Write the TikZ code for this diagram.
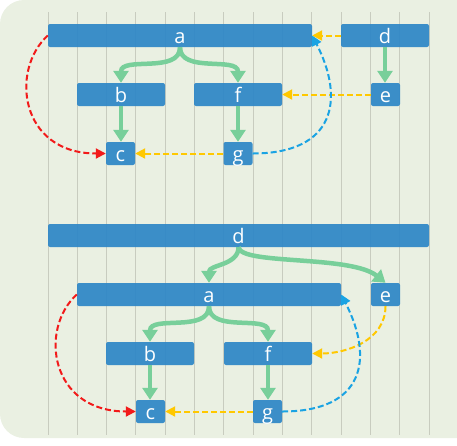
\documentclass[tikz,border=0pt]{standalone}
\usepackage{fontspec}
\setmainfont{Open Sans}
\usetikzlibrary{arrows.meta}

\definecolor{bgfill}{RGB}{234,240,226}
\definecolor{gridgray}{RGB}{200,204,191}
\definecolor{boxblue}{RGB}{46,135,199}
\definecolor{flowgreen}{RGB}{120,207,154}
\definecolor{linkred}{RGB}{242,26,26}
\definecolor{linkyellow}{RGB}{255,200,0}
\definecolor{linkblue}{RGB}{26,163,227}

\begin{document}
\begin{tikzpicture}[x=1pt,y=-1pt,
  box/.style={rectangle,rounded corners=2pt,fill=boxblue,fill opacity=0.93,text opacity=1,
    text=white,minimum height=23pt,inner sep=0pt,text height=19pt,text depth=4pt,
    font=\fontsize{20}{20}\selectfont},
  flow/.style={color=flowgreen,line width=4.5pt,-{Triangle[width=15pt,length=12pt]}},
  link/.style={line width=2pt,dash pattern=on 6pt off 3pt,-{Triangle[width=10pt,length=10pt]}},
  gridline/.style={draw=gridgray,line width=1pt}]

\useasboundingbox (0,0) rectangle (457,445);
\fill[bgfill,rounded corners=24pt] (457,0) -- (0,0) -- (0,438) -- (457,438);
\foreach \i in {0,...,13}
  \draw[gridline] (48+29.31*\i,12) -- ++(0,423);

% upper tree
\node[box,minimum width=264pt] (a1) at (180,35.5)  {a};
\node[box,minimum width=88pt]  (d1) at (385,35.5)  {d};
\node[box,minimum width=88pt]  (b1) at (121,94.5)  {b};
\node[box,minimum width=88pt]  (f1) at (238,94.5)  {f};
\node[box,minimum width=29pt]  (e1) at (385.5,94.5) {e};
\node[box,minimum width=29pt]  (c1) at (120.5,153.5) {c};
\node[box,minimum width=29pt]  (g1) at (238,153.5) {g};

\path[flow] (a1.south) edge[out=-90,in=90] (b1.north)
                       edge[out=-90,in=90] (f1.north)
            (b1.south) edge (b1.south |- c1.north)
            (f1.south) edge (f1.south |- g1.north)
            (d1.south) edge (d1.south |- e1.north);

\draw[link,linkyellow] (d1.west) -- (a1.east);
\draw[link,linkyellow] (e1.west) -- (e1.west -| f1.east);
\draw[link,linkyellow] (g1.west) -- (c1.east);
\draw[link,linkred] (a1.west) .. controls +(-38,34.5) and +(-86,0) .. (c1.west);
\draw[link,linkblue] (g1.east) .. controls +(82,0) and +(33,64.5) .. (a1.east);

% lower tree
\node[box,minimum width=381pt] (d2) at (238.5,235.5) {d};
\node[box,minimum width=264pt] (a2) at (209,294.5)   {a};
\node[box,minimum width=29pt]  (e2) at (385.5,294.5) {e};
\node[box,minimum width=88pt]  (b2) at (150,353.5)   {b};
\node[box,minimum width=88pt]  (f2) at (268,353.5)   {f};
\node[box,minimum width=29pt]  (c2) at (150.5,411.5) {c};
\node[box,minimum width=29pt]  (g2) at (267.5,411.5) {g};

\path[flow] (d2.south) edge[out=-90,in=90] (a2.north)
            (a2.south) edge[out=-90,in=90] (b2.north)
                       edge[out=-90,in=90] (f2.north)
            (b2.south) edge (b2.south |- c2.north)
            (f2.south) edge (f2.south |- g2.north);
\draw[flow] (d2.south) .. controls +(2,18) and +(-35,-28) .. (e2.north);

\draw[link,linkyellow] (e2.south) to[out=-90,in=0] (f2.east);
\draw[link,linkyellow] (g2.west) -- (c2.east);
\draw[link,linkred] (a2.west) .. controls +(-38,34.5) and +(-86,0) .. (c2.west);
\draw[link,linkblue] (g2.east) .. controls +(82,0) and +(33,64.5) .. (a2.east);
\end{tikzpicture}
\end{document}
